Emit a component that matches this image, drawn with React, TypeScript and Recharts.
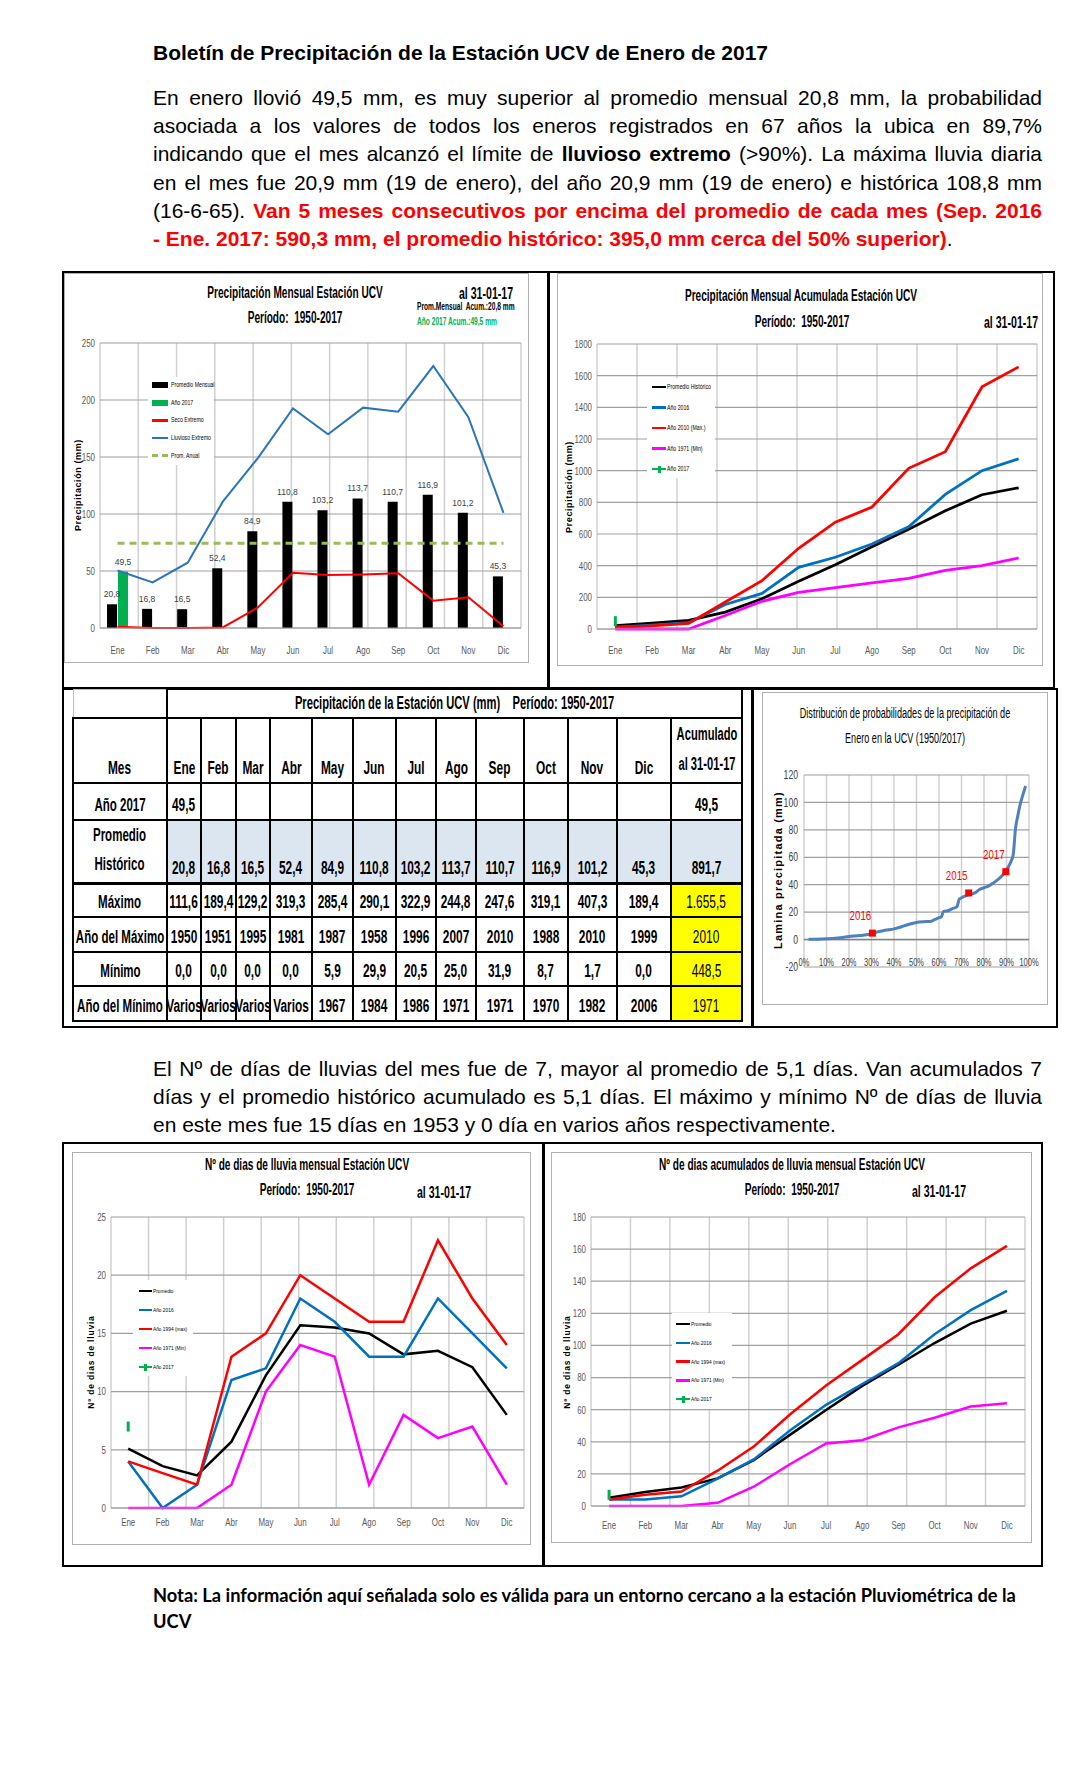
import React from "react";
import {
  ComposedChart,
  LineChart,
  Line,
  Bar,
  XAxis,
  YAxis,
  CartesianGrid,
  LabelList,
  Scatter,
  ReferenceLine,
} from "recharts";

const NARROW = "'Liberation Sans Narrow', 'Arial Narrow', 'Liberation Sans', sans-serif";
const ARIAL = "'Liberation Sans', Arial, Helvetica, sans-serif";

const meses = ["Ene", "Feb", "Mar", "Abr", "May", "Jun", "Jul", "Ago", "Sep", "Oct", "Nov", "Dic"];
const bordes = [0, 1, 2, 3, 4, 5, 6, 7, 8, 9, 10, 11, 12];

// precipitación mensual (mm)
const promedioMensual = [20.8, 16.8, 16.5, 52.4, 84.9, 110.8, 103.2, 113.7, 110.7, 116.9, 101.2, 45.3];
const lluvia2017 = [49.5, null, null, null, null, null, null, null, null, null, null, null];
const secoExtremo = [1, 0, 0, 0.5, 18, 48.5, 46.5, 47, 48, 24, 27, 1.5];
const lluviosoExtremo = [50.5, 40, 57.3, 110.8, 149, 192.7, 170, 193.3, 189.8, 229.8, 185, 101];
const promAnual = [74.3, 74.3, 74.3, 74.3, 74.3, 74.3, 74.3, 74.3, 74.3, 74.3, 74.3, 74.3];

// precipitación acumulada (mm)
const acumPromedio = [20.8, 37.6, 54.1, 106.5, 191.4, 302.2, 405.4, 519.1, 629.8, 746.7, 847.9, 891.7];
const acum2016 = [12, 25, 40, 155, 225, 389, 453, 537, 645, 850, 1000, 1075];
const acum2010 = [10, 20, 35, 170, 305, 510, 675, 770, 1015, 1120, 1530, 1655.5];
const acum1971 = [0, 0, 0, 85, 175, 232, 262, 292, 320, 370, 400, 448.5];
const acum2017 = [49.5, null, null, null, null, null, null, null, null, null, null, null];

// días de lluvia por mes
const diasPromedio = [5.1, 3.6, 2.8, 5.7, 11.4, 15.7, 15.5, 15.0, 13.2, 13.5, 12.1, 8.0];
const dias2016 = [4, 0, 2, 11, 12, 18, 16, 13, 13, 18, 15, 12];
const dias1994 = [4, 3, 2, 13, 15, 20, 18, 16, 16, 23, 18, 14];
const dias1971 = [0, 0, 0, 2, 10, 14, 13, 2, 8, 6, 7, 2];
const dias2017 = [7, null, null, null, null, null, null, null, null, null, null, null];

// días de lluvia acumulados
const diasAcumPromedio = [5.1, 8.7, 11.5, 17.2, 28.6, 44.3, 59.8, 74.8, 88.0, 101.5, 113.6, 121.6];
const diasAcum2016 = [4, 4, 6, 17, 29, 47, 63, 76, 89, 107, 122, 134];
const diasAcum1994 = [4, 7, 9, 22, 37, 57, 75, 91, 107, 130, 148, 162];
const diasAcum1971 = [0, 0, 0, 2, 12, 26, 39, 41, 49, 55, 62, 64];
const diasAcum2017 = [7, null, null, null, null, null, null, null, null, null, null, null];

// distribución de probabilidades de enero
const probNoExc = [0.02, 0.05, 0.1, 0.15, 0.2, 0.25, 0.3, 0.33, 0.36, 0.4, 0.43, 0.46, 0.5, 0.53, 0.56, 0.58, 0.6, 0.61, 0.62, 0.64, 0.66, 0.68, 0.69, 0.7, 0.72, 0.74, 0.76, 0.78, 0.8, 0.82, 0.84, 0.86, 0.88, 0.9, 0.91, 0.92, 0.93, 0.94, 0.95, 0.96, 0.97, 0.985];
const probLamina = [0.2, 0.3, 0.6, 1.2, 2.2, 3, 4.2, 5.8, 6.8, 7.8, 9.2, 10.8, 12.5, 13, 13.2, 14.5, 16, 16.5, 20.5, 21, 22.5, 24, 29.5, 30.5, 32, 33, 34, 36.5, 37.8, 39, 41, 43.5, 46.5, 51, 53.5, 57, 62, 81, 90, 98, 104, 112];
const marcaAnios = ["2016", "2015", "2017"];
const marcaProb = [0.304, 0.732, 0.897];
const marcaLamina = [4.7, 34, 49.5];

// tabla
const maximoMes = [111.6, 189.4, 129.2, 319.3, 285.4, 290.1, 322.9, 244.8, 247.6, 319.1, 407.3, 189.4];
const anioMaximo = [1950, 1951, 1995, 1981, 1987, 1958, 1996, 2007, 2010, 1988, 2010, 1999];
const minimoMes = [0, 0, 0, 0, 5.9, 29.9, 20.5, 25.0, 31.9, 8.7, 1.7, 0.0];
const anioMinimo = ["Varios", "Varios", "Varios", "Varios", 1967, 1984, 1986, 1971, 1971, 1970, 1982, 2006];
const acumTabla = [49.5, 891.7, 1655.5, 2010, 448.5, 1971];

const ticksPrecip = [0, 50, 100, 150, 200, 250];
const ticksAcum = [0, 200, 400, 600, 800, 1000, 1200, 1400, 1600, 1800];
const ticksDias = [0, 5, 10, 15, 20, 25];
const ticksDiasAcum = [0, 20, 40, 60, 80, 100, 120, 140, 160, 180];
const ticksProbX = [0, 0.1, 0.2, 0.3, 0.4, 0.5, 0.6, 0.7, 0.8, 0.9, 1];
const ticksProbY = [-20, 0, 20, 40, 60, 80, 100, 120];

const coma = (v: any) => {
  if (v == null || v === "") return "";
  const [e, d] = Number(v).toFixed(1).split(".");
  return e.replace(/\B(?=(\d{3})+(?!\d))/g, ".") + "," + d;
};
const pct = (v: number) => `${Math.round(v * 100)}%`;

const mensual = meses.map((mes, i) => ({
  mes,
  prom: promedioMensual[i],
  a2017: lluvia2017[i],
  seco: secoExtremo[i],
  lluv: lluviosoExtremo[i],
  anual: promAnual[i],
}));
const acumulado = meses.map((mes, i) => ({
  mes, prom: acumPromedio[i], a2016: acum2016[i], amax: acum2010[i], amin: acum1971[i], a2017: acum2017[i],
}));
const dias = meses.map((mes, i) => ({
  mes, prom: diasPromedio[i], a2016: dias2016[i], amax: dias1994[i], amin: dias1971[i], a2017: dias2017[i],
}));
const diasAcum = meses.map((mes, i) => ({
  mes, prom: diasAcumPromedio[i], a2016: diasAcum2016[i], amax: diasAcum1994[i], amin: diasAcum1971[i], a2017: diasAcum2017[i],
}));
const curva = probNoExc.map((p, i) => ({ p, v: probLamina[i] }));
const marcas = marcaAnios.map((anio, i) => ({ anio, p: marcaProb[i], v: marcaLamina[i] }));

// ticks estrechos, como en la imagen original
const tickY = (fs = 10, sx = 0.75, fill = "#595959") => (p: any) => (
  <text
    transform={`translate(${p.x},${p.y}) scale(${sx},1)`}
    textAnchor="end" dy="0.35em" fontSize={fs} fill={fill} fontFamily={NARROW}
  >
    {p.payload.value}
  </text>
);
const tickX = (fs = 10, sx = 0.75, fmt: any = null, dy = 0, fill = "#595959") => (p: any) => (
  <text
    transform={`translate(${p.x},${p.y + dy}) scale(${sx},1)`}
    textAnchor="middle" dy="0.71em" fontSize={fs} fill={fill} fontFamily={NARROW}
  >
    {fmt ? fmt(p.payload.value) : p.payload.value}
  </text>
);

function marcaVerde(props: any) {
  const { cx, cy, value, index } = props;
  if (value == null || cx == null || cy == null) return <g key={index} />;
  return <rect key={index} x={cx - 1.5} y={cy - 5} width={3} height={10} fill="#00b050" />;
}

function marcaRoja(props: any) {
  const { cx, cy, payload } = props;
  return (
    <g>
      <rect x={cx - 3.5} y={cy - 3.5} width={7} height={7} fill="#ff0000" />
      <text
        transform={`translate(${cx - 12},${cy - 13}) scale(0.75,1)`}
        textAnchor="middle" fontSize={13} fill="#ff0000" fontFamily={NARROW}
      >
        {payload.anio}
      </text>
    </g>
  );
}

function T({ x, y, children, size = 12, bold = false, color = "#000", font = NARROW, sx = 1, anchor = "middle" }: any) {
  const mid = anchor === "middle";
  return (
    <div
      style={{
        position: "absolute",
        left: x,
        top: y,
        transform: `translate(${mid ? "-50%" : "0"}, -50%) scaleX(${sx})`,
        transformOrigin: mid ? "center" : "left center",
        fontFamily: font,
        fontSize: size,
        fontWeight: bold ? 700 : 400,
        color,
        whiteSpace: "nowrap",
        lineHeight: 1,
      }}
    >
      {children}
    </div>
  );
}

function VT({ x, y, children, size = 9, ls = 0.6 }: any) {
  return (
    <div
      style={{
        position: "absolute",
        left: x,
        top: y,
        transform: "translate(-50%, -50%) rotate(-90deg)",
        fontFamily: ARIAL,
        fontWeight: 700,
        fontSize: size,
        letterSpacing: ls,
        whiteSpace: "nowrap",
        lineHeight: 1,
      }}
    >
      {children}
    </div>
  );
}

function Caja({ l, t, r, b, color = "#000", w = 2 }: any) {
  return (
    <div
      style={{
        position: "absolute",
        left: l,
        top: t,
        width: r - l,
        height: b - t,
        border: `${w}px solid ${color}`,
        boxSizing: "border-box",
      }}
    />
  );
}

function VLinea({ x, t, b, w = 3 }: any) {
  return <div style={{ position: "absolute", left: x - w / 2, top: t, width: w, height: b - t, background: "#000" }} />;
}

function Leyenda({ box, y0, step, sx, sw, tx, fs, items }: any) {
  return (
    <>
      <div style={{ position: "absolute", left: box[0], top: box[1], width: box[2], height: box[3], background: "#fff" }} />
      {items.map((it: any, i: number) => {
        const y = y0 + i * step;
        let sym;
        if (it.kind === "rect") {
          sym = <div style={{ position: "absolute", left: sx, top: y - 3, width: sw, height: 6, background: it.color }} />;
        } else if (it.kind === "dash") {
          sym = (
            <div
              style={{
                position: "absolute", left: sx, top: y - 1.5, width: sw, height: 3,
                background: `repeating-linear-gradient(90deg, ${it.color} 0 6px, transparent 6px 10px)`,
              }}
            />
          );
        } else {
          sym = (
            <>
              <div style={{ position: "absolute", left: sx, top: y - 1.25, width: sw, height: 2.5, background: it.color }} />
              {it.kind === "marca" && (
                <div style={{ position: "absolute", left: sx + sw / 2 - 1.5, top: y - 3.5, width: 3, height: 7, background: it.color }} />
              )}
            </>
          );
        }
        return (
          <React.Fragment key={i}>
            {sym}
            <div
              style={{
                position: "absolute", left: tx, top: y, transform: "translateY(-50%) scaleX(0.8)",
                transformOrigin: "left center",
                fontFamily: NARROW, fontSize: fs, whiteSpace: "nowrap", lineHeight: 1, color: "#000",
              }}
            >
              {it.label}
            </div>
          </React.Fragment>
        );
      })}
    </>
  );
}

const seriesMes = [
  { key: "prom", color: "#000000" },
  { key: "a2016", color: "#0070c0" },
  { key: "amax", color: "#ff0000" },
  { key: "amin", color: "#ff00ff" },
];

function GraficoLineas({ left, top, width, height, data, domain, ticks, yWidth, mt, mr, mb, xMargin, sw = 2.5 }: any) {
  return (
    <div style={{ position: "absolute", left, top }}>
      <LineChart width={width} height={height} data={data} margin={{ top: mt, right: mr, bottom: mb, left: 0 }}>
        <XAxis xAxisId="g" type="number" domain={[0, 12]} ticks={bordes} hide allowDataOverflow />
        <CartesianGrid xAxisId="g" horizontal={false} stroke="#d0d0d0" strokeWidth={1.5} />
        <CartesianGrid vertical={false} stroke="#a0a0a0" strokeWidth={1.2} />
        <XAxis
          dataKey="mes" scale="band" interval={0} height={30} tickLine={false} tickSize={0}
          tickMargin={xMargin} axisLine={{ stroke: "#a0a0a0" }} tick={tickX(11, 0.72)}
        />
        <YAxis
          domain={domain} ticks={ticks} width={yWidth} axisLine={false} tickLine={false}
          tickSize={0} tickMargin={5} tick={tickY(11, 0.72)} interval={0}
        />
        {seriesMes.map((s) => (
          <Line
            key={s.key} dataKey={s.key} stroke={s.color} strokeWidth={sw} dot={false}
            activeDot={false} isAnimationActive={false}
          />
        ))}
        <Line dataKey="a2017" stroke="#00b050" dot={marcaVerde} activeDot={false} isAnimationActive={false} />
      </LineChart>
    </div>
  );
}

function Renglon({ top, children, last = false, size = 21, width = 889, font = ARIAL, bold = false }: any) {
  return (
    <div
      style={{
        position: "absolute",
        left: 153,
        top,
        width,
        height: 28,
        lineHeight: "28px",
        fontFamily: font,
        fontSize: size,
        fontWeight: bold ? 700 : 400,
        textAlign: last ? "left" : "justify",
        textAlignLast: last ? "left" : "justify",
        whiteSpace: last ? "nowrap" : "normal",
        color: "#000",
      }}
    >
      {children}
    </div>
  );
}

const Rojo = ({ children }: any) => <span style={{ color: "#ff0000", fontWeight: 700 }}>{children}</span>;

const parrafo1 = [
  <>En enero llovió 49,5 mm, es muy superior al promedio mensual 20,8 mm, la probabilidad</>,
  <>asociada a los valores de todos los eneros registrados en 67 años la ubica en 89,7%</>,
  <>indicando que el mes alcanzó el límite de <b>lluvioso extremo</b> (&gt;90%). La máxima lluvia diaria</>,
  <>en el mes fue 20,9 mm (19 de enero), del año 20,9 mm (19 de enero) e histórica 108,8 mm</>,
  <>(16-6-65). <Rojo>Van 5 meses consecutivos por encima del promedio de cada mes (Sep. 2016</Rojo></>,
  <><Rojo>- Ene. 2017: 590,3 mm, el promedio histórico: 395,0 mm cerca del 50% superior)</Rojo>.</>,
];
const parrafo2 = [
  "El Nº de días de lluvias del mes fue de 7, mayor al promedio de 5,1 días. Van acumulados 7",
  "días y el promedio histórico acumulado es 5,1 días. El máximo y mínimo Nº de días de lluvia",
  "en este mes fue 15 días en 1953 y 0 día en varios años respectivamente.",
];

const anchos = [94, 34, 35, 34, 42, 41, 43, 40, 40, 48, 44, 49, 54, 71];

function Celda({ children, bold = true, bg, top = 2, lh = 22, sx = 0.66, size = 18 }: any) {
  return (
    <td
      style={{
        border: "2px solid #000",
        borderTopWidth: top,
        background: bg,
        padding: "0 0 3px 0",
        verticalAlign: "bottom",
        overflow: "visible",
      }}
    >
      <div style={{ display: "flex", justifyContent: "center" }}>
        <span
          style={{
            display: "inline-block",
            transform: `scaleX(${sx})`,
            whiteSpace: "nowrap",
            fontFamily: NARROW,
            fontWeight: bold ? 700 : 400,
            fontSize: size,
            lineHeight: `${lh}px`,
            textAlign: "center",
            color: "#000",
          }}
        >
          {children}
        </span>
      </div>
    </td>
  );
}

function Tabla() {
  const filas = [
    { label: "Año 2017", vals: lluvia2017.map(coma), acum: coma(acumTabla[0]), h: 37 },
    { label: <>Promedio<br />Histórico</>, vals: promedioMensual.map(coma), acum: coma(acumTabla[1]), h: 57, bg: "#dce6f1", lh: 29 },
    { label: "Máximo", vals: maximoMes.map(coma), acum: coma(acumTabla[2]), h: 33, yellow: true, top: 3 },
    { label: "Año del Máximo", vals: anioMaximo.map(String), acum: String(acumTabla[3]), h: 35, yellow: true },
    { label: "Mínimo", vals: minimoMes.map(coma), acum: coma(acumTabla[4]), h: 34, yellow: true },
    { label: "Año del Mínimo", vals: anioMinimo.map(String), acum: String(acumTabla[5]), h: 35, yellow: true },
  ];
  return (
    <table
      style={{
        position: "absolute", left: 72, top: 688, width: 669, borderCollapse: "collapse",
        tableLayout: "fixed",
      }}
    >
      <colgroup>
        {anchos.map((w, i) => <col key={i} style={{ width: w }} />)}
      </colgroup>
      <tbody>
        <tr style={{ height: 29 }}>
          <td style={{ borderLeft: "1px solid #bbb", borderTop: "1px solid #bbb", borderBottom: "2px solid #000", padding: 0 }} />
          <td colSpan={13} style={{ border: "2px solid #000", padding: 0, verticalAlign: "middle" }}>
            <div style={{ display: "flex", justifyContent: "center" }}>
              <span style={{ display: "inline-block", transform: "scaleX(0.62)", whiteSpace: "nowrap", fontFamily: NARROW, fontWeight: 700, fontSize: 18 }}>
                Precipitación de la Estación UCV (mm)&nbsp;&nbsp;&nbsp; Período: 1950-2017
              </span>
            </div>
          </td>
        </tr>
        <tr style={{ height: 57 }}>
          <Celda>Mes</Celda>
          {meses.map((m) => <Celda key={m}>{m}</Celda>)}
          <Celda lh={30} sx={0.62}>Acumulado<br />al 31-01-17</Celda>
        </tr>
        {filas.map((f, i) => (
          <tr key={i} style={{ height: f.h }}>
            <Celda lh={f.lh || 22} top={f.top || 2} sx={0.64}>{f.label}</Celda>
            {f.vals.map((v, j) => <Celda key={j} bg={f.bg} top={f.top || 2}>{v}</Celda>)}
            <Celda bg={f.yellow ? "#ffff00" : f.bg} top={f.top || 2} bold={!f.yellow}>{f.acum}</Celda>
          </tr>
        ))}
      </tbody>
    </table>
  );
}

const leyendaDias = [
  { label: "Promedio", kind: "line", color: "#000000" },
  { label: "Año 2016", kind: "line", color: "#0070c0" },
  { label: "Año 1994 (max)", kind: "line", color: "#ff0000" },
  { label: "Año 1971 (Min)", kind: "line", color: "#ff00ff" },
  { label: "Año 2017", kind: "marca", color: "#00b050" },
];

const SQ = 0.63;

export default function App() {
  return (
    <div style={{ position: "absolute", left: 0, top: 0, width: 1088, height: 1792, background: "#fff", overflow: "hidden" }}>
      <T x={153} y={52} size={21} bold font={ARIAL} anchor="start">
        Boletín de Precipitación de la Estación UCV de Enero de 2017
      </T>
      {parrafo1.map((l, i) => (
        <Renglon key={i} top={84 + i * 28.2} last={i === 5}>{l}</Renglon>
      ))}

      {/* fila superior */}
      <Caja l={62} t={271} r={1055} b={689} />
      <VLinea x={548} t={271} b={689} />
      <Caja l={64} t={273} r={529} b={663} color="#b0b0b0" w={1.5} />
      <Caja l={557} t={273} r={1043} b={666} color="#b0b0b0" w={1.5} />

      <div style={{ position: "absolute", left: 63, top: 271 }}>
        <ComposedChart width={466} height={392} data={mensual} margin={{ top: 72, right: 8, bottom: 5, left: 0 }} barGap={1}>
          <XAxis xAxisId="g" type="number" domain={[0, 12]} ticks={bordes} hide allowDataOverflow />
          <CartesianGrid xAxisId="g" horizontal={false} stroke="#d0d0d0" strokeWidth={1.5} />
          <CartesianGrid vertical={false} stroke="#a0a0a0" strokeWidth={1.2} />
          <XAxis
            dataKey="mes" interval={0} height={30} tickLine={false} tickSize={0} tickMargin={18}
            axisLine={{ stroke: "#a0a0a0" }} tick={tickX(11, 0.72)}
          />
          <YAxis
            domain={[0, 250]} ticks={ticksPrecip} width={37} axisLine={false} tickLine={false}
            tickSize={0} tickMargin={5} tick={tickY(11, 0.72)} interval={0}
          />
          <Bar dataKey="prom" fill="#000000" barSize={10} isAnimationActive={false}>
            <LabelList dataKey="prom" position="top" offset={7} formatter={coma} fontSize={8.5} fill="#404040" fontFamily={NARROW} />
          </Bar>
          <Bar dataKey="a2017" fill="#00b050" barSize={10} isAnimationActive={false}>
            <LabelList dataKey="a2017" position="top" offset={7} formatter={coma} fontSize={8.5} fill="#404040" fontFamily={NARROW} />
          </Bar>
          <Line dataKey="seco" stroke="#ff0000" strokeWidth={2} dot={false} activeDot={false} isAnimationActive={false} />
          <Line dataKey="lluv" stroke="#2e75b6" strokeWidth={2} dot={false} activeDot={false} isAnimationActive={false} />
          <Line dataKey="anual" stroke="#9bbb59" strokeWidth={3} strokeDasharray="7 5" dot={false} activeDot={false} isAnimationActive={false} />
        </ComposedChart>
      </div>
      <Leyenda
        box={[148, 377, 66, 88]} y0={385} step={17.7} sx={152} sw={16} tx={171} fs={6.5}
        items={[
          { label: "Promedio Mensual", kind: "rect", color: "#000" },
          { label: "Año 2017", kind: "rect", color: "#00b050" },
          { label: "Seco Extremo", kind: "line", color: "#ff0000" },
          { label: "Lluvioso Extremo", kind: "line", color: "#2e75b6" },
          { label: "Prom. Anual", kind: "dash", color: "#9bbb59" },
        ]}
      />
      <T x={295} y={293} size={16} bold sx={SQ}>Precipitación Mensual Estación UCV</T>
      <T x={295} y={318} size={16} bold sx={SQ}>Período:&nbsp; 1950-2017</T>
      <T x={459} y={294} size={16} bold sx={0.66} anchor="start">al 31-01-17</T>
      <T x={417} y={306} size={10.5} bold sx={SQ} anchor="start">Prom.Mensual&nbsp; Acum.:20,8 mm</T>
      <T x={417} y={321} size={10.5} bold sx={SQ} anchor="start" color="#00b050">Año 2017 Acum.:49,5 mm</T>
      <VT x={78} y={485}>Precipitación (mm)</VT>

      <GraficoLineas
        left={557} top={272} width={486} height={394} data={acumulado} domain={[0, 1800]} ticks={ticksAcum}
        yWidth={40} mt={72} mr={6} mb={7} xMargin={17} sw={2.8}
      />
      <Leyenda
        box={[647, 378, 68, 100]} y0={387} step={20.5} sx={652} sw={14} tx={667} fs={6.5}
        items={[
          { label: "Promedio Histórico", kind: "line", color: "#000" },
          { label: "Año 2016", kind: "line", color: "#0070c0" },
          { label: "Año 2010 (Max.)", kind: "line", color: "#ff0000" },
          { label: "Año 1971 (Min)", kind: "line", color: "#ff00ff" },
          { label: "Año 2017", kind: "marca", color: "#00b050" },
        ]}
      />
      <T x={801} y={296} size={16} bold sx={SQ}>Precipitación Mensual Acumulada Estación UCV</T>
      <T x={802} y={322} size={16} bold sx={SQ}>Período:&nbsp; 1950-2017</T>
      <T x={984} y={323} size={16} bold sx={0.66} anchor="start">al 31-01-17</T>
      <VT x={569} y={487}>Precipitación (mm)</VT>

      {/* fila de tabla y probabilidades */}
      <Caja l={62} t={688} r={1058} b={1028} />
      <VLinea x={752} t={688} b={1028} />
      <Tabla />
      <Caja l={762} t={692} r={1048} b={1005} color="#b0b0b0" w={1.5} />
      <div style={{ position: "absolute", left: 762, top: 692 }}>
        <ComposedChart width={286} height={313} data={curva} margin={{ top: 83, right: 19, bottom: 8, left: 0 }}>
          <CartesianGrid horizontal={false} stroke="#d0d0d0" strokeWidth={1.5} />
          <CartesianGrid vertical={false} stroke="#a0a0a0" strokeWidth={1.2} />
          <XAxis
            type="number" dataKey="p" domain={[0, 1]} ticks={ticksProbX} interval={0} height={30}
            axisLine={false} tickLine={false} tickSize={0} tickMargin={0}
            tick={tickX(11, 0.68, pct, -9, "#404040")}
          />
          <YAxis
            type="number" dataKey="v" domain={[-20, 120]} ticks={ticksProbY} width={42} interval={0}
            axisLine={false} tickLine={false} tickSize={0} tickMargin={6} tick={tickY(12, 0.72, "#404040")}
          />
          <ReferenceLine y={0} stroke="#808080" strokeWidth={1.5} />
          <Line dataKey="v" type="monotone" stroke="#4f81bd" strokeWidth={3} dot={false} activeDot={false} isAnimationActive={false} />
          <Scatter data={marcas} dataKey="v" shape={marcaRoja} isAnimationActive={false} />
        </ComposedChart>
      </div>
      <T x={905} y={713} size={14} sx={0.65}>Distribución de probabilidades de la precipitación de</T>
      <T x={905} y={738} size={14} sx={0.65}>Enero en la UCV (1950/2017)</T>
      <VT x={778} y={870} size={11} ls={1.2}>Lamina precipitada (mm)</VT>

      {parrafo2.map((l, i) => (
        <Renglon key={i} top={1055 + i * 28} last={i === 2}>{l}</Renglon>
      ))}

      {/* fila inferior */}
      <Caja l={62} t={1142} r={1043} b={1567} />
      <VLinea x={543} t={1142} b={1567} />
      <Caja l={72} t={1152} r={531} b={1545} color="#b0b0b0" w={1.5} />
      <Caja l={551} t={1152} r={1032} b={1543} color="#b0b0b0" w={1.5} />

      <GraficoLineas
        left={72} top={1152} width={459} height={393} data={dias} domain={[0, 25]} ticks={ticksDias}
        yWidth={39} mt={65} mr={7} mb={7} xMargin={10}
      />
      <Leyenda box={[133, 1280, 60, 96]} y0={1291} step={19} sx={139} sw={13} tx={153} fs={6} items={leyendaDias} />
      <T x={307} y={1165} size={16} bold sx={SQ}>Nº de dias de lluvia mensual Estación UCV</T>
      <T x={307} y={1190} size={16} bold sx={SQ}>Período:&nbsp; 1950-2017</T>
      <T x={417} y={1193} size={16} bold sx={0.66} anchor="start">al 31-01-17</T>
      <VT x={91} y={1362} size={8.5} ls={0.8}>Nº de dias de lluvia</VT>

      <GraficoLineas
        left={551} top={1152} width={481} height={391} data={diasAcum} domain={[0, 180]} ticks={ticksDiasAcum}
        yWidth={40} mt={65} mr={7} mb={7} xMargin={15}
      />
      <Leyenda box={[672, 1313, 60, 96]} y0={1324} step={18.8} sx={676} sw={14} tx={691} fs={6} items={leyendaDias} />
      <T x={792} y={1165} size={16} bold sx={SQ}>Nº de dias acumulados de lluvia mensual Estación UCV</T>
      <T x={792} y={1190} size={16} bold sx={SQ}>Período:&nbsp; 1950-2017</T>
      <T x={912} y={1192} size={16} bold sx={0.66} anchor="start">al 31-01-17</T>
      <VT x={567} y={1362} size={8.5} ls={0.8}>Nº de dias de lluvia</VT>

      <Renglon top={1581} size={18.3} width={920} font="Lato, 'Open Sans', sans-serif" bold last>
        Nota: La información aquí señalada solo es válida para un entorno cercano a la estación Pluviométrica de la
      </Renglon>
      <Renglon top={1607} size={18.3} width={920} font="Lato, 'Open Sans', sans-serif" bold last>
        UCV
      </Renglon>
    </div>
  );
}
